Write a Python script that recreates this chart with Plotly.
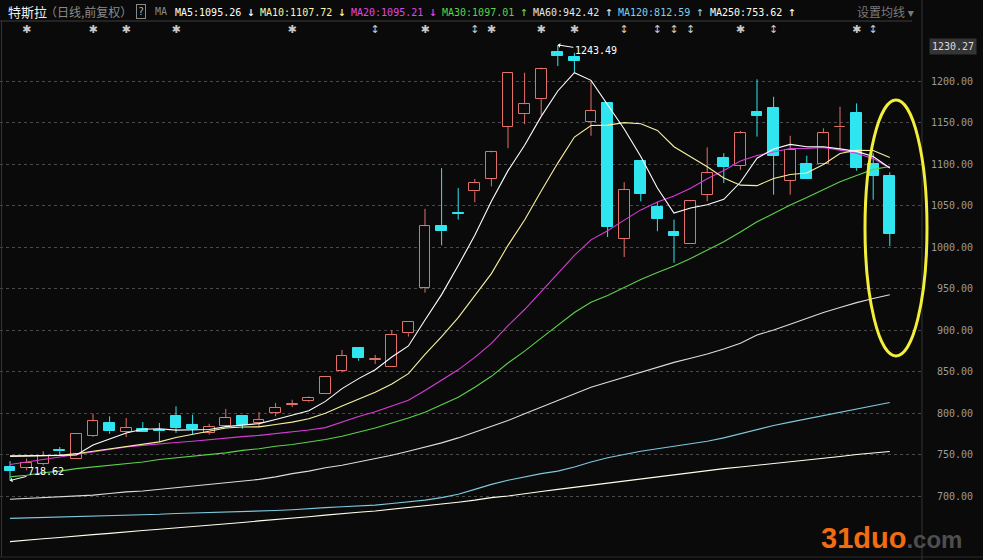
import plotly.graph_objects as go

# ---------------- data ----------------
opens = [735, 734, 739, 755, 745, 772, 788, 777, 781, 780, 796, 786, 776, 784, 796, 788, 800, 810, 814, 823,
         851, 878, 864, 855, 896, 951, 1025, 1041, 1067, 1082, 1145, 1160, 1178, 1235, 1229, 1151, 1173, 1010,
         1104, 1048, 1018, 1004, 1063, 1107, 1098, 1163, 1167, 1080, 1100, 1100, 1144, 1161, 1100, 1086]
closes = [730, 740, 748, 754, 775, 790, 778, 782, 777, 778, 782, 781, 783, 794, 786, 792, 806, 811, 818, 843,
          869, 866, 865, 894, 910, 1025, 1019, 1040, 1077, 1114, 1210, 1172, 1214, 1230, 1224, 1164, 1024, 1069,
          1064, 1034, 1013, 1055, 1089, 1096, 1137, 1158, 1110, 1117, 1082, 1137, 1145, 1095, 1086, 1016]
highs = [742, 745, 754, 759, 775, 799, 796, 794, 789, 788, 808, 798, 787, 805, 796, 801, 812, 816, 820, 843,
         876, 878, 870, 900, 910, 1046, 1095, 1071, 1082, 1116, 1210, 1210, 1216, 1243.49, 1234, 1199, 1173, 1078,
         1104, 1054, 1033, 1056, 1120, 1113, 1140, 1202, 1181, 1134, 1110, 1143, 1169, 1173, 1113, 1090]
lows = [718.62, 731, 737, 748, 745, 771, 775, 771, 777, 765, 776, 774, 774, 783, 781, 783, 796, 807, 813, 823,
        849, 863, 859, 855, 892, 945, 1002, 1033, 1054, 1073, 1119, 1148, 1159, 1218, 1210, 1134, 1012, 988,
        1055, 1019, 981, 1004, 1055, 1077, 1093, 1133, 1063, 1063, 1082, 1100, 1117, 1092, 1057, 1001]

ma5 = [748, 748.5, 749, 749, 749.4, 761.4, 769, 775.8, 780.4, 781, 779.4, 780, 780.2, 783.6, 785.2, 787.2,
       792.2, 797.8, 802.6, 814, 829.4, 841.4, 852.2, 867.4, 880.8, 912, 942.6, 977.6, 1014.2, 1055, 1092,
       1122.6, 1157.4, 1188, 1210, 1200.8, 1171.2, 1142.2, 1109, 1071, 1040.8, 1047, 1051, 1057.4, 1078, 1107,
       1118, 1123.6, 1120.8, 1120.8, 1118.2, 1115.2, 1109, 1095.26]
ma10 = [748, 748, 748.5, 749, 751, 754, 757, 760, 763, 765.2, 770.4, 774.5, 778, 782, 783.1, 783.3, 786.1,
        789, 793.1, 799.6, 808.3, 816.8, 825, 835, 847.4, 870.7, 892, 914.9, 940.8, 967.9, 1002, 1032.6,
        1067.5, 1101.1, 1132.5, 1146.4, 1146.9, 1149.8, 1148.5, 1140.5, 1120.8, 1109.1, 1096.6, 1083.2, 1074.5,
        1073.9, 1082.5, 1087.3, 1089.1, 1099.4, 1112.6, 1116.6, 1116.3, 1107.72]
ma20 = [738, 741, 744, 747, 750, 753, 756, 759, 761, 763, 764.5, 766, 768, 770, 771.5, 773, 775, 777, 779.5,
        782.4, 789.4, 795.7, 801.5, 808.5, 815.3, 827, 839, 852, 867, 883.8, 905.2, 924.7, 946.3, 968.1, 990,
        1008.6, 1019.5, 1032.4, 1044.7, 1054.2, 1061.4, 1070.9, 1082.1, 1092.2, 1103.5, 1110.2, 1114.7, 1118.6,
        1118.8, 1120, 1116.7, 1112.9, 1106.5, 1095.21]
ma30 = [723, 725, 728, 730, 733, 735, 737, 739, 741, 744, 746, 748, 750, 752, 755, 757, 760, 762, 765, 768,
        772, 777, 782, 788, 794, 801, 810, 819, 831, 844.2, 860.2, 874.6, 890.2, 906, 921, 933.5, 941.7, 951.2,
        960.8, 969.3, 977, 986.2, 996.4, 1006.4, 1018.1, 1030.3, 1040.5, 1050.7, 1059.5, 1069.3, 1078.5, 1086.1,
        1093.5, 1097.01]
ma60 = [696, 697, 698, 699, 700, 701, 703, 705, 706, 708, 710, 712, 714, 716, 718, 720, 723, 727, 730, 734,
        737, 741, 745, 749, 754, 759, 764, 770, 777, 784, 791, 799, 807, 815, 823, 831, 837, 843, 849, 855,
        861, 866, 871, 877, 884, 894, 900, 907, 914, 921, 927, 933, 938, 942.42]
ma120 = [673, 673.5, 674, 674.5, 675, 676, 676.5, 677, 677.5, 678, 679, 679.5, 680, 680.5, 681, 681.5, 682.5,
         683.5, 685, 686, 687, 688, 689, 691, 693, 695, 698, 702, 708, 714, 719, 723, 727, 730, 735, 741, 746,
         750, 754, 757, 760, 763, 766, 770, 775, 780, 785, 789, 793, 797, 801, 805, 809, 812.59]
ma250 = [645, 647, 648.5, 650, 652, 653.5, 655, 657, 658.5, 660, 661.5, 663, 665, 666.5, 668, 670, 671.5, 673,
         675, 677, 679, 680.5, 682, 684, 686, 688, 690, 692.5, 695, 698, 700, 703, 705.5, 708, 710.5, 713, 716,
         718.5, 721, 723.5, 726, 728, 730.5, 733, 735, 737, 739, 741, 743, 745, 747.5, 750, 752, 753.62]

star_days = [2, 6, 8, 11, 18, 26, 30, 33, 35, 45, 52]
arrow_days = [23, 29, 38, 40, 41, 42, 47, 53]
y_ticks = [700, 750, 800, 850, 900, 950, 1000, 1050, 1100, 1150, 1200]
legend_items = [("MA5:1095.26", "↓", "#ffffff", 173), ("MA10:1107.72", "↓", "#fdf7a6", 258),
                ("MA20:1095.21", "↓", "#e048e0", 349), ("MA30:1097.01", "↑", "#5cd24a", 440),
                ("MA60:942.42", "↑", "#e6e6e6", 531), ("MA120:812.59", "↑", "#7fd0e8", 616),
                ("MA250:753.62", "↑", "#ffffee", 708)]

# ---------------- styling ----------------
BG = "#0a0a0a"
RED = "#e4706a"
CYAN = "#2fe5f0"
W, H = 983, 560
ML, MR, MT, MB = 0, 62, 21, 3
PW, PH = W - ML - MR, H - MT - MB
STEP = 16.6
X0PIX = 10
Y_LO, Y_HI = 626.5, 1272.3


def px(x):
    return (x - ML) / PW


def py(y):
    return (H - MB - y) / PH


n = len(opens)
idx = list(range(n))
up = [c >= o for o, c in zip(opens, closes)]

fig = go.Figure()

# wicks
for flag, col in ((True, RED), (False, CYAN)):
    xs, ys = [], []
    for i in idx:
        if up[i] != flag:
            continue
        top, bot = max(opens[i], closes[i]), min(opens[i], closes[i])
        xs += [i, i, None, i, i, None]
        ys += [highs[i], top, None, bot, lows[i], None]
    fig.add_trace(go.Scatter(x=xs, y=ys, mode="lines", line=dict(color=col, width=1),
                             hoverinfo="skip", showlegend=False))

# bodies
fig.add_trace(go.Bar(
    x=idx,
    y=[abs(c - o) for o, c in zip(opens, closes)],
    base=[min(o, c) for o, c in zip(opens, closes)],
    width=0.66,
    marker=dict(color=[BG if u else CYAN for u in up],
                line=dict(color=[RED if u else CYAN for u in up], width=1)),
    hoverinfo="skip", showlegend=False))

# moving averages
for vals, col in ((ma250, "#fffff0"), (ma120, "#7fc8e0"), (ma60, "#dcdcdc"), (ma30, "#5cd24a"),
                  (ma20, "#d83cd8"), (ma10, "#f8f2a0"), (ma5, "#ffffff")):
    fig.add_trace(go.Scatter(x=idx, y=vals, mode="lines", line=dict(color=col, width=1.1),
                             hoverinfo="skip", showlegend=False))

# event markers row
marker_level = Y_LO + (H - MB - 30) / PH * (Y_HI - Y_LO)
fig.add_trace(go.Scatter(x=[d - 1 for d in star_days], y=[marker_level] * len(star_days), mode="text",
                         text=["✱"] * len(star_days), textfont=dict(color="#c8c8c8", size=11, family="DejaVu Sans"),
                         hoverinfo="skip", showlegend=False, cliponaxis=False))
fig.add_trace(go.Scatter(x=[d - 1 for d in arrow_days], y=[marker_level] * len(arrow_days), mode="text",
                         text=["↕"] * len(arrow_days), textfont=dict(color="#c8c8c8", size=11, family="DejaVu Sans"),
                         hoverinfo="skip", showlegend=False, cliponaxis=False))

ann = []
MONO = "DejaVu Sans Mono"
CJK = "Noto Sans CJK SC"
# header texts
ann.append(dict(x=px(6), y=py(12), xref="paper", yref="paper", xanchor="left", yanchor="middle", showarrow=False,
                text="特斯拉", font=dict(family=CJK, size=13, color="#f0f0f0")))
ann.append(dict(x=px(43), y=py(12), xref="paper", yref="paper", xanchor="left", yanchor="middle", showarrow=False,
                text="（日线,前复权）", font=dict(family=CJK, size=12, color="#8a8a8a")))
ann.append(dict(x=px(141), y=py(12), xref="paper", yref="paper", xanchor="center", yanchor="middle",
                showarrow=False, text="?", bordercolor="#8a8a8a", borderwidth=1, borderpad=1,
                font=dict(family=MONO, size=10, color="#b0b0b0")))
ann.append(dict(x=px(153), y=py(12), xref="paper", yref="paper", xanchor="left", yanchor="middle", showarrow=False,
                text="MA", font=dict(family=MONO, size=10, color="#8a8a8a")))
for txt, arrow, col, xpos in legend_items:
    ann.append(dict(x=px(xpos), y=py(12), xref="paper", yref="paper", xanchor="left", yanchor="middle",
                    showarrow=False, text=f"{txt} <span style='font-size:13px'>{arrow}</span>",
                    font=dict(family=MONO, size=10, color=col)))
ann.append(dict(x=px(855), y=py(12), xref="paper", yref="paper", xanchor="left", yanchor="middle", showarrow=False,
                text="设置均线 ▾", font=dict(family=CJK + ", DejaVu Sans", size=12, color="#7a7a7a")))

# right axis labels
for v in y_ticks:
    ann.append(dict(x=px(975), y=v, xref="paper", yref="y", xanchor="right", yanchor="middle", showarrow=False,
                    text=f"{v:.2f}", font=dict(family=MONO, size=10, color="#9a9a9a")))
ann.append(dict(x=px(977), y=py(47), xref="paper", yref="paper", xanchor="right", yanchor="middle",
                showarrow=False, text="1230.27", bgcolor="#353535", borderpad=2,
                font=dict(family=MONO, size=10, color="#dcdcdc")))

# extreme value labels
lo_i = lows.index(min(lows))
hi_i = highs.index(max(highs))
ann.append(dict(x=lo_i, y=lows[lo_i], xref="x", yref="y", text=f"{lows[lo_i]:.2f}", showarrow=True,
                ax=36, ay=-9, arrowhead=1, arrowsize=0.8, arrowwidth=1, arrowcolor="#ffffff",
                font=dict(family=MONO, size=10, color="#ffffff")))
ann.append(dict(x=hi_i, y=highs[hi_i], xref="x", yref="y", text=f"{highs[hi_i]:.2f}", showarrow=True,
                ax=38, ay=6, arrowhead=1, arrowsize=0.8, arrowwidth=1, arrowcolor="#ffffff",
                font=dict(family=MONO, size=10, color="#ffffff")))

# watermark
ann.append(dict(x=px(819), y=py(538), xref="paper", yref="paper", xanchor="left", yanchor="middle",
                showarrow=False,
                text="<b><span style='color:#f26c10;font-size:29px'>31duo</span>"
                     "<span style='color:#4e4e4e;font-size:24px'>.com</span></b>",
                font=dict(family="Liberation Sans", size=29, color="#f26c10")))

shapes = [
    dict(type="line", xref="paper", yref="paper", x0=px(0), x1=px(912), y0=py(21), y1=py(21),
         line=dict(color="#3c3c3c", width=1)),
    dict(type="line", xref="paper", yref="paper", x0=px(922), x1=px(922), y0=py(0), y1=py(560),
         line=dict(color="#333333", width=1)),
    dict(type="line", xref="paper", yref="paper", x0=px(1.5), x1=px(1.5), y0=py(21), y1=py(557),
         line=dict(color="#333333", width=1)),
    dict(type="line", xref="paper", yref="paper", x0=px(0), x1=px(983), y0=py(557), y1=py(557),
         line=dict(color="#2a2a2a", width=1)),
    dict(type="circle", xref="paper", yref="paper", x0=px(865), x1=px(927), y0=py(356), y1=py(100),
         line=dict(color="#f2ee3a", width=3)),
]

fig.update_layout(
    width=W, height=H,
    margin=dict(l=ML, r=MR, t=MT, b=MB, pad=0),
    paper_bgcolor=BG, plot_bgcolor=BG,
    showlegend=False,
    bargap=0,
    xaxis=dict(range=[-X0PIX / STEP, -X0PIX / STEP + PW / STEP], showgrid=False, zeroline=False,
               showticklabels=False, ticks="", fixedrange=True),
    yaxis=dict(range=[Y_LO, Y_HI], tickvals=y_ticks, showticklabels=False, ticks="",
               showgrid=True, gridcolor="#4a4a4a", griddash="dot", gridwidth=1, zeroline=False,
               fixedrange=True),
    annotations=ann,
    shapes=shapes,
)

fig.write_html("out.html", config={"displayModeBar": False},
               post_script="document.body.style.margin='0';document.body.style.overflow='hidden';"
                           "document.body.style.background='#0a0a0a';")
